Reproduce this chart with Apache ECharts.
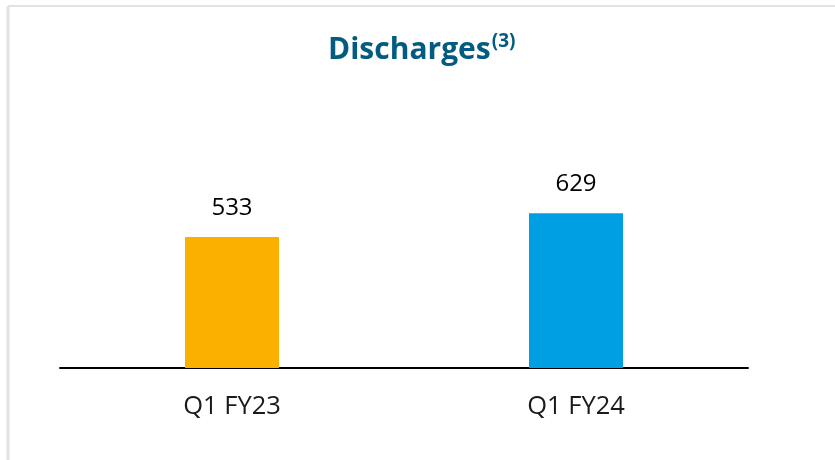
<!DOCTYPE html>
<html><head><meta charset="utf-8">
<script src="https://cdn.jsdelivr.net/npm/echarts@6/dist/echarts.min.js"></script>
<style>html,body{margin:0;padding:0;background:#fff}#c{width:835px;height:460px}</style>
</head><body><div id="c"></div>
<script>
const categories = ['Q1 FY23', 'Q1 FY24'];
const discharges = [533, 629];
const barColors = ['#FBB000', '#009FE3'];
const titleText = 'Discharges';
const titleNote = '(3)';

const chart = echarts.init(document.getElementById('c'), null, {renderer: 'canvas'});
const FONT = "'Open Sans', 'Noto Sans', sans-serif";
chart.setOption({
  animation: false,
  backgroundColor: '#fff',
  title: {
    text: '{a|' + titleText + '}{b|' + titleNote + '}',
    left: 323,
    top: 27,
    textStyle: {
      rich: {
        a: {fontFamily: FONT, fontSize: 30, fontWeight: 'bold', color: '#035B80', lineHeight: 36},
        b: {fontFamily: FONT, fontSize: 19, fontWeight: 'bold', color: '#035B80', verticalAlign: 'top', lineHeight: 36, padding: [0, 0, 15, 1]}
      }
    }
  },
  graphic: [
    {type: 'line', shape: {x1: 8, y1: 6, x2: 835, y2: 6}, style: {stroke: '#e2e2e2', lineWidth: 2}, silent: true},
    {type: 'line', shape: {x1: 8, y1: 6, x2: 8, y2: 460}, style: {stroke: '#e2e2e2', lineWidth: 3}, silent: true}
  ],
  grid: {left: 60, right: 87, top: 122, bottom: 92},
  xAxis: {
    type: 'category',
    data: categories,
    axisLine: {lineStyle: {color: '#000', width: 2}},
    axisTick: {show: false},
    axisLabel: {fontFamily: FONT, fontSize: 25.5, color: '#1a1a1a', margin: 26}
  },
  yAxis: {
    type: 'value', min: 0, max: 1000,
    show: false
  },
  series: [{
    type: 'bar',
    data: discharges.map((v, i) => ({value: v, itemStyle: {color: barColors[i]}})),
    barWidth: 94,
    label: {show: true, position: 'top', distance: 17, fontFamily: FONT, fontSize: 24, color: '#000'}
  }]
});
</script></body></html>
